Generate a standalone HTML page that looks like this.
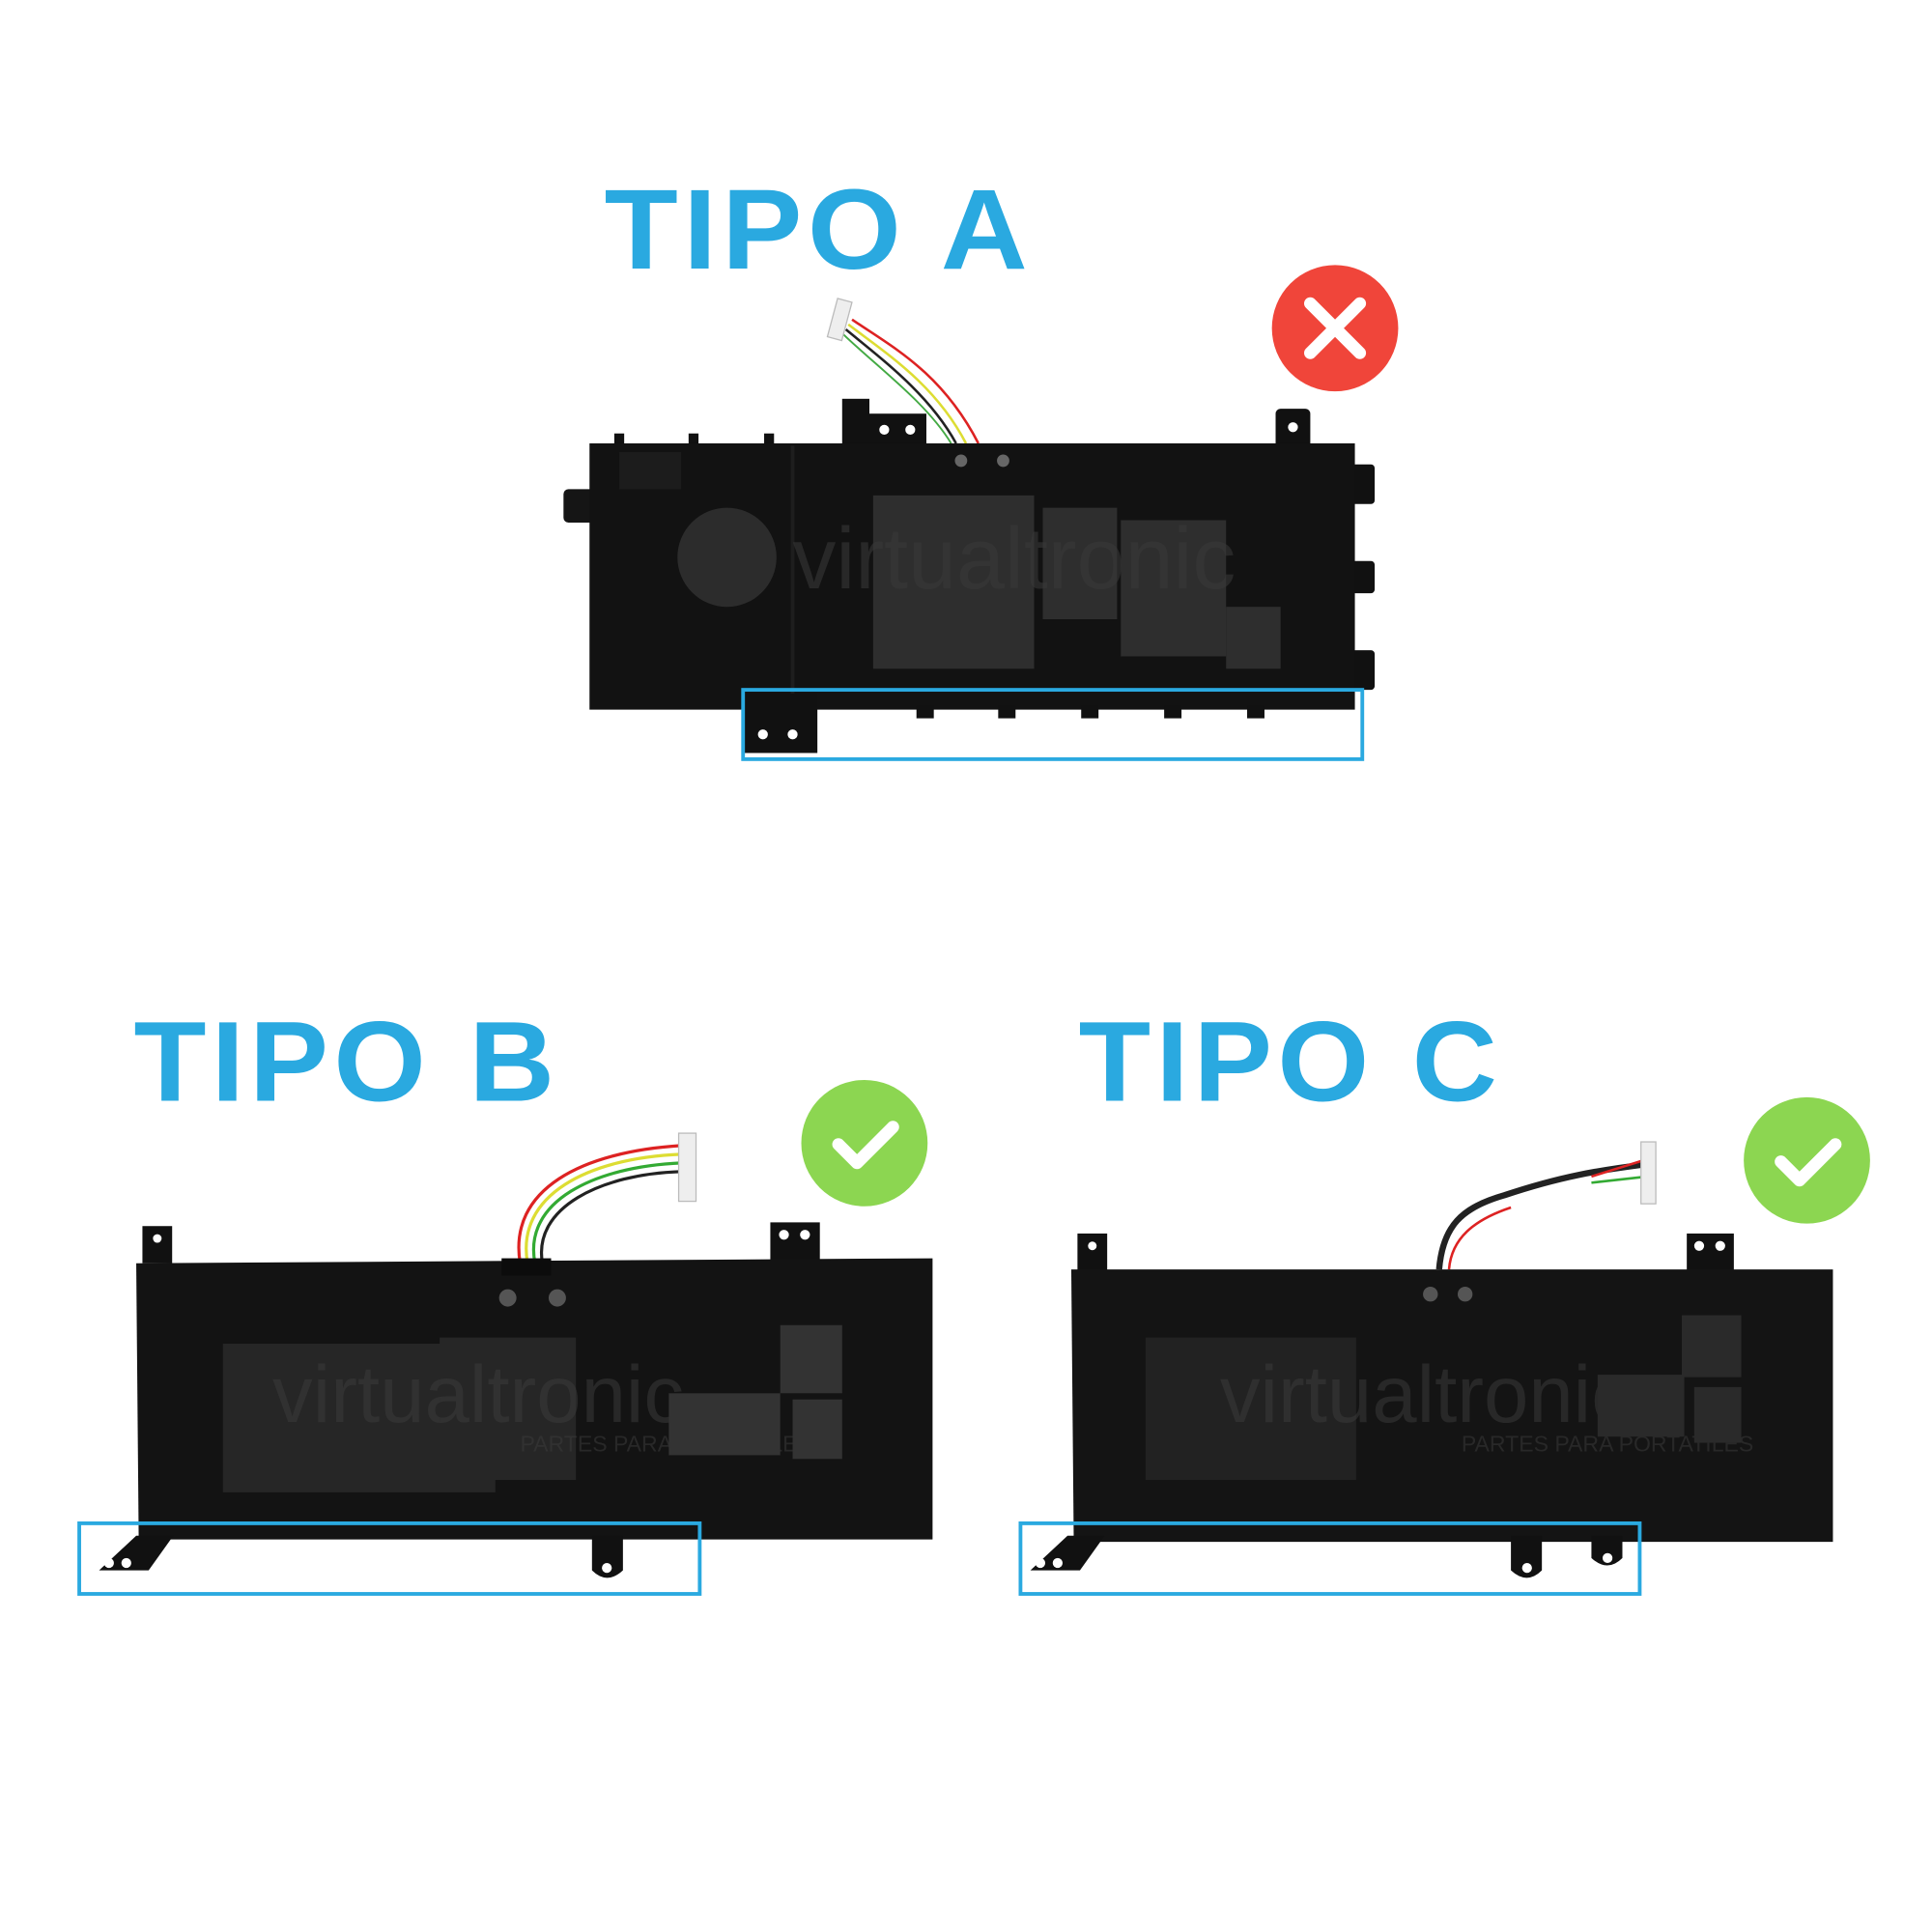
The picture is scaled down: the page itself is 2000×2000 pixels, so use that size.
<!DOCTYPE html>
<html><head><meta charset="utf-8"><style>
html,body{margin:0;padding:0;background:#fff;width:2000px;height:2000px;overflow:hidden}
svg{display:block}
.t{font-family:"Liberation Sans",sans-serif;font-weight:bold;fill:#2aa9e0;font-size:92px;letter-spacing:4px}
.wm{font-family:"Liberation Sans",sans-serif;fill:#3a3a3a;opacity:.55}
</style></head><body>
<svg width="2000" height="2000" viewBox="0 0 1560 1560" xmlns="http://www.w3.org/2000/svg">
<rect width="1560" height="1560" fill="#fff"/>
<text class="t" x="488" y="217" textLength="346" lengthAdjust="spacingAndGlyphs">TIPO A</text>
<text class="t" x="108" y="889" textLength="344" lengthAdjust="spacingAndGlyphs">TIPO B</text>
<text class="t" x="871" y="889" textLength="342" lengthAdjust="spacingAndGlyphs">TIPO C</text>

<circle cx="1078" cy="265" r="51" fill="#f0453a"/>
<path d="M1058 245 L1098 285 M1098 245 L1058 285" stroke="#fff" stroke-width="10" stroke-linecap="round"/>
<circle cx="698" cy="923" r="51" fill="#8cd651"/>
<path d="M677 924 L692 939 L721 910" stroke="#fff" stroke-width="10" fill="none" stroke-linecap="round" stroke-linejoin="round"/>
<circle cx="1459" cy="937" r="51" fill="#8cd651"/>
<path d="M1438 938 L1453 953 L1482 924" stroke="#fff" stroke-width="10" fill="none" stroke-linecap="round" stroke-linejoin="round"/>

<!-- Battery A -->
<g>
<path d="M688 258 C720 280 760 300 790 358" stroke="#d22" stroke-width="2" fill="none"/>
<path d="M685 262 C715 285 755 310 780 358" stroke="#dd3" stroke-width="2" fill="none"/>
<path d="M683 266 C712 290 750 318 772 358" stroke="#222" stroke-width="2" fill="none"/>
<path d="M681 270 C708 296 748 325 768 358" stroke="#4a4" stroke-width="1.5" fill="none"/>
<rect x="672" y="242" width="12" height="32" fill="#eee" stroke="#bbb" transform="rotate(15 678 258)"/>
<rect x="680" y="322" width="22" height="40" fill="#111"/>
<rect x="702" y="334" width="46" height="26" fill="#111"/>
<circle cx="714" cy="347" r="4" fill="#fff"/><circle cx="735" cy="347" r="4" fill="#fff"/>
<rect x="1030" y="330" width="28" height="32" rx="4" fill="#111"/><circle cx="1044" cy="345" r="4" fill="#fff"/>
<rect x="496" y="350" width="8" height="12" fill="#111"/><rect x="556" y="350" width="8" height="12" fill="#111"/><rect x="617" y="350" width="8" height="12" fill="#111"/>
<rect x="455" y="395" width="30" height="27" rx="4" fill="#151515"/>
<rect x="1088" y="375" width="22" height="32" rx="3" fill="#111"/>
<rect x="1088" y="453" width="22" height="26" rx="3" fill="#111"/>
<rect x="1088" y="525" width="22" height="32" rx="3" fill="#111"/>
<rect x="476" y="358" width="618" height="215" fill="#121212"/>
<rect x="500" y="365" width="50" height="30" fill="#1c1c1c"/>
<line x1="640" y1="360" x2="640" y2="573" stroke="#1e1e1e" stroke-width="3"/>
<circle cx="776" cy="372" r="5" fill="#666"/><circle cx="810" cy="372" r="5" fill="#666"/>
<rect x="600" y="560" width="60" height="48" fill="#111"/>
<circle cx="616" cy="593" r="4" fill="#fff"/><circle cx="640" cy="593" r="4" fill="#fff"/>
<g fill="#111"><rect x="740" y="570" width="14" height="10"/><rect x="806" y="570" width="14" height="10"/><rect x="873" y="570" width="14" height="10"/><rect x="940" y="570" width="14" height="10"/><rect x="1007" y="570" width="14" height="10"/></g>
<circle cx="587" cy="450" r="40" fill="#2c2c2c"/>
<g fill="#2e2e2e"><rect x="705" y="400" width="130" height="140"/><rect x="842" y="410" width="60" height="90"/><rect x="905" y="420" width="85" height="110"/><rect x="990" y="490" width="44" height="50"/></g>
<text class="wm" x="640" y="475" font-size="70">virtualtronic</text>
<rect x="600" y="557" width="500" height="56" fill="none" stroke="#2aa9e0" stroke-width="3"/>
</g>

<!-- Battery B -->
<g>
<path d="M420 1020 C410 960 470 930 550 925" stroke="#d22" stroke-width="2.5" fill="none"/>
<path d="M426 1020 C416 965 475 935 550 932" stroke="#dd3" stroke-width="2.5" fill="none"/>
<path d="M432 1020 C422 970 480 942 550 939" stroke="#3a3" stroke-width="2.5" fill="none"/>
<path d="M438 1020 C430 975 485 948 550 946" stroke="#222" stroke-width="2.5" fill="none"/>
<rect x="548" y="915" width="14" height="55" fill="#eee" stroke="#bbb"/>
<rect x="115" y="990" width="24" height="30" fill="#111"/><circle cx="127" cy="1000" r="3.5" fill="#fff"/>
<rect x="622" y="987" width="40" height="32" fill="#111"/><circle cx="633" cy="997" r="4" fill="#fff"/><circle cx="650" cy="997" r="4" fill="#fff"/>
<path d="M110 1020 L753 1016 L753 1243 L112 1243 Z" fill="#131313"/>
<rect x="405" y="1016" width="40" height="14" fill="#0c0c0c"/>
<circle cx="410" cy="1048" r="7" fill="#555"/><circle cx="450" cy="1048" r="7" fill="#555"/>
<path d="M80 1268 L110 1240 L140 1240 L120 1268 Z" fill="#111"/>
<circle cx="88" cy="1262" r="4" fill="#fff"/><circle cx="102" cy="1262" r="4" fill="#fff"/>
<path d="M478 1240 L503 1240 L503 1268 Q490 1280 478 1268 Z" fill="#111"/><circle cx="490" cy="1266" r="4" fill="#fff"/>
<g fill="#262626"><rect x="180" y="1085" width="220" height="120"/><rect x="355" y="1080" width="110" height="115"/></g>
<text class="wm" x="220" y="1148" font-size="65">virtualtronic</text>
<text class="wm" x="420" y="1172" font-size="18">PARTES PARA PORTATILES</text>
<g fill="#333"><rect x="540" y="1125" width="90" height="50"/><rect x="640" y="1130" width="40" height="48"/><rect x="630" y="1070" width="50" height="55"/></g>
<rect x="64" y="1230" width="501" height="57" fill="none" stroke="#2aa9e0" stroke-width="3"/>
</g>

<!-- Battery C -->
<g>
<path d="M1162 1025 C1165 990 1180 975 1215 965 C1260 950 1290 945 1330 940" stroke="#222" stroke-width="5" fill="none"/>
<path d="M1170 1025 C1172 1000 1190 985 1220 975" stroke="#d22" stroke-width="2" fill="none"/>
<path d="M1285 950 L1330 936" stroke="#d22" stroke-width="2" fill="none"/>
<path d="M1285 955 L1330 950" stroke="#3a3" stroke-width="2" fill="none"/>
<rect x="1325" y="922" width="12" height="50" fill="#eee" stroke="#bbb"/>
<rect x="870" y="996" width="24" height="30" fill="#111"/><circle cx="882" cy="1006" r="3.5" fill="#fff"/>
<rect x="1362" y="996" width="38" height="30" fill="#111"/><circle cx="1372" cy="1006" r="4" fill="#fff"/><circle cx="1389" cy="1006" r="4" fill="#fff"/>
<path d="M865 1025 L1480 1025 L1480 1245 L867 1245 Z" fill="#141414"/>
<circle cx="1155" cy="1045" r="6" fill="#555"/><circle cx="1183" cy="1045" r="6" fill="#555"/>
<path d="M832 1268 L862 1240 L892 1240 L872 1268 Z" fill="#111"/>
<circle cx="840" cy="1262" r="4" fill="#fff"/><circle cx="854" cy="1262" r="4" fill="#fff"/>
<path d="M1220 1240 L1245 1240 L1245 1268 Q1233 1280 1220 1268 Z" fill="#111"/><circle cx="1233" cy="1266" r="4" fill="#fff"/>
<path d="M1285 1240 L1310 1240 L1310 1258 Q1298 1270 1285 1258 Z" fill="#111"/><circle cx="1298" cy="1258" r="4" fill="#fff"/>
<g fill="#222"><rect x="925" y="1080" width="170" height="115"/></g>
<text class="wm" x="985" y="1148" font-size="65">virtualtronic</text>
<text class="wm" x="1180" y="1172" font-size="18">PARTES PARA PORTATILES</text>
<g fill="#2a2a2a"><rect x="1290" y="1110" width="70" height="50"/><rect x="1368" y="1120" width="38" height="45"/><rect x="1358" y="1062" width="48" height="50"/></g>
<rect x="824" y="1230" width="500" height="57" fill="none" stroke="#2aa9e0" stroke-width="3"/>
</g>
</svg>
</body></html>
